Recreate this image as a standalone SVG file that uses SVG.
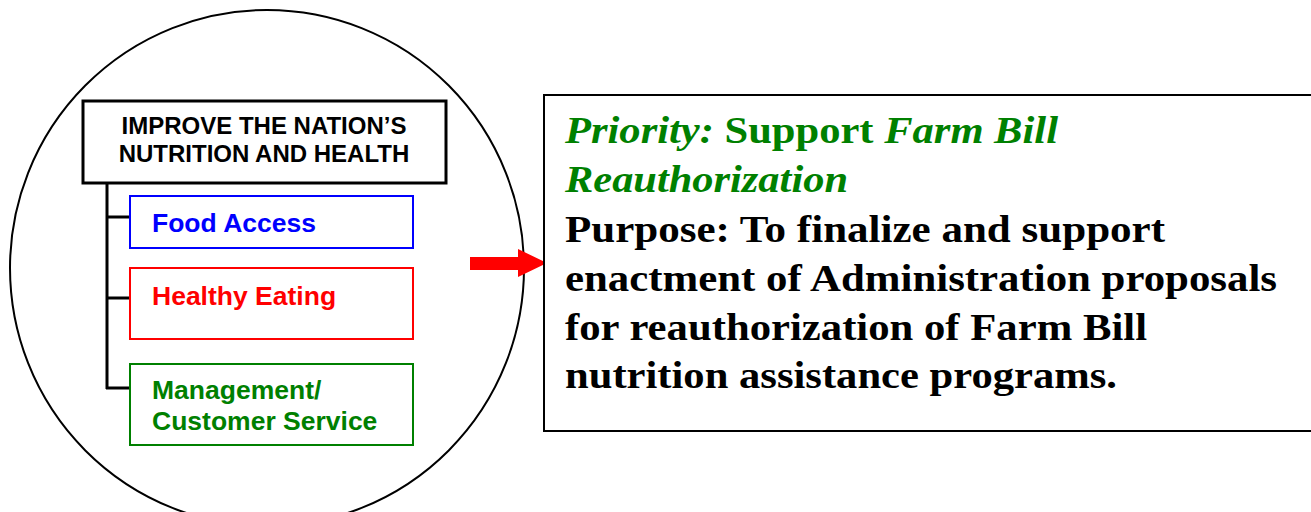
<svg xmlns="http://www.w3.org/2000/svg" width="1311" height="512" viewBox="0 0 1311 512">
<style>
.sans{font-family:"Liberation Sans",Arial,sans-serif;font-weight:bold}
.item{font-size:26.5px}
.serif{font-family:"Liberation Serif","Times New Roman",serif;font-weight:bold;font-size:37px}
.box{fill:#fff;stroke-width:2}
.conn{stroke:#000;stroke-width:3;fill:none}
</style>
<rect width="1311" height="512" fill="#fff"/>
<ellipse cx="267" cy="268" rx="257" ry="258" fill="none" stroke="#000" stroke-width="2"/>
<g id="connectors">
<path class="conn" d="M107 183 V389 M106 217 H130 M106 298 H130 M106 388 H130"/>
<polygon points="470,257 518,257 518,249 547,263 518,277 518,270 470,270" fill="#f00"/>
</g>
<g id="goal">
<rect x="83" y="101" width="363" height="82" fill="#fff" stroke="#000" stroke-width="3"/>
<text class="sans" font-size="24" text-anchor="middle" x="264" y="134">IMPROVE THE NATION’S</text>
<text class="sans" font-size="24" text-anchor="middle" x="264" y="162">NUTRITION AND HEALTH</text>
</g>
<g id="food-access">
<rect class="box" x="130" y="196" width="283" height="52" stroke="#00f"/>
<text class="sans item" fill="#00f" x="152" y="232">Food Access</text>
</g>
<g id="healthy-eating">
<rect class="box" x="130" y="268" width="283" height="71" stroke="#f00"/>
<text class="sans item" fill="#f00" x="152" y="305">Healthy Eating</text>
</g>
<g id="management">
<rect class="box" x="130" y="364" width="283" height="81" stroke="#008000"/>
<text class="sans item" fill="#008000" x="152" y="399">Management/</text>
<text class="sans item" fill="#008000" x="152" y="430">Customer Service</text>
</g>
<g id="priority">
<rect x="544" y="95" width="780" height="336" fill="#fff" stroke="#000" stroke-width="2"/>
<text class="serif" x="565" y="143" fill="#008000" textLength="493" lengthAdjust="spacingAndGlyphs"><tspan font-style="italic">Priority:</tspan> Support <tspan font-style="italic">Farm Bill</tspan></text>
<text class="serif" x="565" y="192" fill="#008000" font-style="italic" textLength="283" lengthAdjust="spacingAndGlyphs">Reauthorization</text>
<text class="serif" x="565" y="242" textLength="600" lengthAdjust="spacingAndGlyphs">Purpose: To finalize and support</text>
<text class="serif" x="565" y="291" textLength="712" lengthAdjust="spacingAndGlyphs">enactment of Administration proposals</text>
<text class="serif" x="565" y="340" textLength="582" lengthAdjust="spacingAndGlyphs">for reauthorization of Farm Bill</text>
<text class="serif" x="565" y="388" textLength="552" lengthAdjust="spacingAndGlyphs">nutrition assistance programs.</text>
</g>
</svg>
